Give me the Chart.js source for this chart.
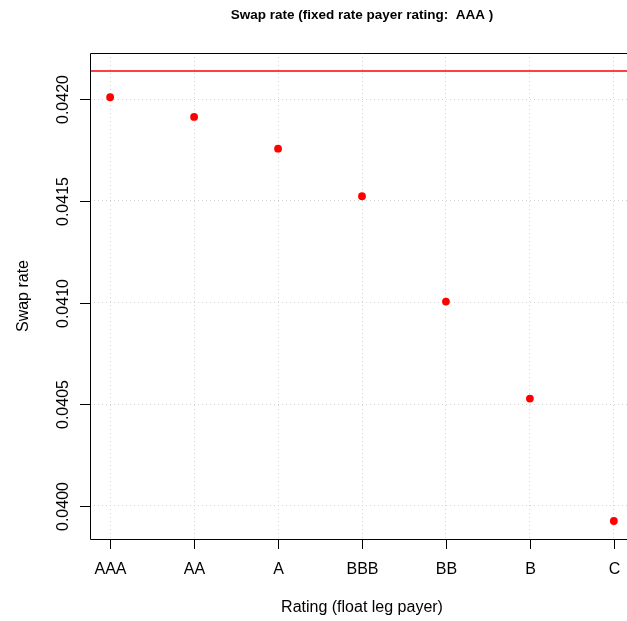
<!DOCTYPE html>
<html>
<head>
<meta charset="utf-8">
<script src="https://cdn.jsdelivr.net/npm/chart.js@4.4.1/dist/chart.umd.min.js"></script>
<style>
  html, body { margin: 0; padding: 0; background: #fff; overflow: hidden; }
  #wrap { width: 680px; height: 621px; }
</style>
</head>
<body>
<div id="wrap"><canvas id="myChart" width="680" height="621"></canvas></div>
<script>
'use strict';

// swap rate by rating of the float leg payer
var ratings = ['AAA', 'AA', 'A', 'BBB', 'BB', 'B', 'C'];
var swapRates = [0.04201, 0.041913, 0.041757, 0.041523, 0.041005, 0.040528, 0.039926];
var parRate = 0.042139;
var yTicks = [0.0400, 0.0405, 0.0410, 0.0415, 0.0420];

// R style axis range: data range stretched 4% each side
var lo = Math.min.apply(null, swapRates);
var hi = Math.max.apply(null, swapRates.concat([parRate]));
var yMin = lo - 0.04 * (hi - lo);
var yMax = hi + 0.04 * (hi - lo);
var xMin = 1 - 0.04 * (ratings.length - 1);
var xMax = ratings.length + 0.04 * (ratings.length - 1);

var points = swapRates.map(function (v, i) { return { x: i + 1, y: v }; });

var fontFam = '"Liberation Sans", Arial, Helvetica, sans-serif';

var rDecor = {
  id: 'rDecor',
  afterDraw: function (chart) {
    var c = chart.ctx;
    var a = chart.chartArea;
    var xs = chart.scales.x;
    var ys = chart.scales.y;
    c.save();
    // box (left, top, bottom; right side falls off the page)
    c.strokeStyle = '#000';
    c.lineWidth = 1;
    c.beginPath();
    c.moveTo(a.right, a.top + 0.5);
    c.lineTo(a.left + 0.5, a.top + 0.5);
    c.lineTo(a.left + 0.5, a.bottom + 0.5);
    c.lineTo(a.right, a.bottom + 0.5);
    c.stroke();

    // x ticks + labels
    c.fillStyle = '#000';
    c.font = '16px ' + fontFam;
    c.textAlign = 'center';
    c.textBaseline = 'middle';
    ratings.forEach(function (r, i) {
      var px = Math.round(xs.getPixelForValue(i + 1)) + 0.5;
      c.beginPath();
      c.moveTo(px, a.bottom);
      c.lineTo(px, a.bottom + 10);
      c.stroke();
      c.fillText(r, px, a.bottom + 31);
    });

    // y ticks + rotated labels
    yTicks.forEach(function (v) {
      var py = Math.round(ys.getPixelForValue(v)) + 0.5;
      c.beginPath();
      c.moveTo(a.left - 10, py);
      c.lineTo(a.left, py);
      c.stroke();
      c.save();
      c.translate(a.left - 26, py);
      c.rotate(-Math.PI / 2);
      c.fillText(v.toFixed(4), 0, 0);
      c.restore();
    });

    var cx = (a.left + a.right) / 2;
    var cy = (a.top + a.bottom) / 2;
    c.fillText('Rating (float leg payer)', cx, 608);
    c.save();
    c.translate(24, cy);
    c.rotate(-Math.PI / 2);
    c.fillText('Swap rate', 0, 0);
    c.restore();

    c.font = 'bold 13.5px ' + fontFam;
    c.fillText('Swap rate (fixed rate payer rating:  AAA )', cx, 15);
    c.restore();
  }
};

var ctx = document.getElementById('myChart');
var myChart = new Chart(ctx, {
  type: 'scatter',
  data: {
    datasets: [
      {
        label: 'par rate',
        type: 'line',
        data: [{ x: xMin, y: parRate }, { x: xMax, y: parRate }],
        borderColor: '#ff0000',
        borderWidth: 1.4,
        pointRadius: 0,
        fill: false
      },
      {
        label: 'swap rate',
        data: points,
        backgroundColor: '#ff0000',
        borderColor: '#ff0000',
        pointRadius: 3.9,
        borderWidth: 0
      }
    ]
  },
  plugins: [rDecor],
  options: {
    responsive: false,
    animation: false,
    devicePixelRatio: 1,
    layout: { padding: { left: 90, top: 53, right: 46, bottom: 82 } },
    plugins: { legend: { display: false }, tooltip: { enabled: false } },
    scales: {
      x: {
        type: 'linear',
        min: xMin,
        max: xMax,
        afterBuildTicks: function (s) { s.ticks = ratings.map(function (r, i) { return { value: i + 1 }; }); },
        afterFit: function (s) { s.height = 0; },
        ticks: { display: false },
        grid: { color: '#d3d3d3', lineWidth: 1, drawTicks: false },
        border: { display: false, dash: [1, 3] }
      },
      y: {
        min: yMin,
        max: yMax,
        afterBuildTicks: function (s) { s.ticks = yTicks.map(function (v) { return { value: v }; }); },
        afterFit: function (s) { s.width = 0; },
        ticks: { display: false },
        grid: { color: '#d3d3d3', lineWidth: 1, drawTicks: false },
        border: { display: false, dash: [1, 3] }
      }
    }
  }
});
</script>
</body>
</html>
